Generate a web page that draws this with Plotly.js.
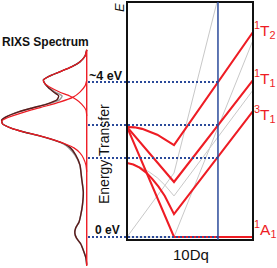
<!DOCTYPE html>
<html><head><meta charset="utf-8">
<script src="https://cdn.plot.ly/plotly-3.0.1.min.js"></script>
<style>html,body{margin:0;padding:0;background:#fff;}#c{width:277px;height:268px;}</style>
</head><body><div id="c"></div>
<script>
// ---- Tanabe-Sugano style diagram (10Dq in box units, energy in eV) ----
const dq_1T2 = [0, 0.06, 0.12, 0.18, 0.24, 0.30, 0.373, 1.0];
const e_1T2  = [2.84, 2.83, 2.79, 2.72, 2.64, 2.52, 2.37, 5.29];
const dq_1T1 = [0, 0.373, 1.0];
const e_1T1  = [2.84, 1.42, 4.05];
const dq_3T1 = [0, 0.05, 0.10, 0.15, 0.20, 0.25, 0.30, 0.373, 1.0];
const e_3T1  = [1.91, 1.87, 1.79, 1.67, 1.50, 1.30, 1.06, 0.59, 3.25];
const dq_1A1 = [0, 0.373, 1.0];
const e_1A1  = [2.84, 0, 0];
const dq_5E  = [0, 0.373, 0.714];
const e_5E   = [0, 1.65, 6.06];
const dq_5T2 = [0, 0.373, 1.0];
const e_5T2  = [0, 0, 5.08];
const dq_3T2 = [0, 0.06, 0.12, 0.18, 0.24, 0.30, 0.373, 1.0];
const e_3T2  = [1.91, 1.86, 1.78, 1.67, 1.53, 1.34, 1.06, 3.79];
const dqMarker = 0.722;                 // blue vertical line position
const levels = [4.0, 2.89, 2.04, 0];    // dotted energy levels (eV)
const boxE = [-0.077, 6.065];           // energy span of the diagram box

// ---- RIXS spectrum (energy in eV, intensity normalised) ----
const specE   = [4.83,4.67,4.52,4.39,4.26,4.15,4.05,3.95,3.85,3.74,3.64,3.54,3.43,3.33,3.23,3.12,3.02,2.92,2.81,2.71,2.61,2.50,2.40,2.30,2.12,1.86,1.52,1.16,0.83,0.57,0.39,0.23,0.10,-0.03,-0.18,-0.34,-0.54,-0.72];
const specSum = [0,0.02,0.08,0.18,0.32,0.44,0.51,0.49,0.45,0.39,0.33,0.35,0.47,0.64,0.80,0.93,1.00,0.99,0.89,0.74,0.55,0.38,0.26,0.19,0.13,0.08,0.06,0.04,0.05,0.07,0.09,0.13,0.14,0.12,0.07,0.04,0.01,0];
const specExp = [0,0.02,0.08,0.18,0.32,0.44,0.51,0.49,0.44,0.37,0.29,0.32,0.46,0.64,0.80,0.93,1.00,0.99,0.89,0.74,0.56,0.39,0.27,0.21,0.14,0.08,0.06,0.04,0.05,0.07,0.09,0.13,0.14,0.12,0.07,0.04,0.01,0];
const c1E = [4.83,4.67,4.52,4.39,4.26,4.15,4.05,3.95,3.85,3.74,3.64,3.54,3.43,3.28,3.12];
const c1I = [0,0.02,0.08,0.18,0.32,0.44,0.51,0.49,0.42,0.32,0.20,0.12,0.06,0.01,0];
const c2E = [4.05,3.90,3.74,3.61,3.48,3.38,3.28,3.17,3.07,2.99,2.92,2.81,2.71,2.61,2.50,2.40,2.30,2.17,2.04,1.86,1.68];
const c2I = [0,0.02,0.08,0.16,0.32,0.48,0.65,0.81,0.94,1.0,0.99,0.89,0.74,0.55,0.38,0.25,0.15,0.08,0.04,0.01,0];
const baseE = [4.83, -0.75];

const W = 277, H = 268;
const RED = '#ee1c24', GRAY = '#c8c8c8', BLUE = '#2b4a9a';
const FONT = 'Arial, Liberation Sans, sans-serif';
const xp = px => px / W, yp = py => 1 - py / H;
const mainDom = [127 / W, 253 / W];
const specDom = [0, 88 / W];

function ts(x, y, color, w) {
  return {x: x, y: y, xaxis: 'x', yaxis: 'y', mode: 'lines', line: {color: color, width: w}, hoverinfo: 'skip'};
}
function sp(x, y, color, w) {
  return {x: x, y: y, xaxis: 'x2', yaxis: 'y', mode: 'lines', line: {color: color, width: w, shape: 'spline', smoothing: 0.6}, hoverinfo: 'skip'};
}

const data = [
  ts(dq_5E, e_5E, GRAY, 1), ts(dq_5T2, e_5T2, GRAY, 1), ts(dq_3T2, e_3T2, GRAY, 1),
  ts(dq_1T2, e_1T2, RED, 2.1), ts(dq_1T1, e_1T1, RED, 2.1), ts(dq_3T1, e_3T1, RED, 2.1), ts(dq_1A1, e_1A1, RED, 2.1),
  sp(specExp, specE, '#9a9a9a', 1.5),
  sp(specSum, specE, '#5a1a1a', 1.4),
  sp(c1I, c1E, RED, 1.2), sp(c2I, c2E, RED, 1.2),
  {x: [0, 0], y: baseE, xaxis: 'x2', yaxis: 'y', mode: 'lines', line: {color: RED, width: 1.4}, hoverinfo: 'skip'}
];

const blueXpaper = mainDom[0] + dqMarker * (mainDom[1] - mainDom[0]);
const shapes = [
  {type: 'rect', xref: 'x domain', x0: 0, x1: 1, yref: 'y', y0: boxE[0], y1: boxE[1], line: {color: '#111', width: 2}},
  {type: 'line', xref: 'x', x0: dqMarker, x1: dqMarker, yref: 'y', y0: boxE[0], y1: boxE[1], line: {color: BLUE, width: 1.5}}
];
levels.forEach(l => shapes.push({type: 'line', xref: 'paper', x0: 88 / W, x1: blueXpaper, yref: 'y', y0: l, y1: l,
  line: {color: BLUE, width: 2, dash: '2px,2px'}}));

function ann(text, x, y, opts) {
  return Object.assign({text: text, xref: 'paper', yref: 'paper', x: xp(x), y: yp(y), showarrow: false,
    xanchor: 'center', yanchor: 'middle', borderpad: 0,
    font: {family: FONT, size: 12, color: '#111'}}, opts || {});
}
const annotations = [
  ann('<b>RIXS Spectrum</b>', 45, 42, {font: {family: FONT, size: 12, color: '#111'}}),
  ann('<b>~4 eV</b>', 106, 76, {font: {family: FONT, size: 12.5, color: '#111'}}),
  ann('<b>0 eV</b>', 107, 230, {font: {family: FONT, size: 12, color: '#111'}}),
  ann('Energy Transfer', 104, 154, {textangle: -90, font: {family: FONT, size: 14, color: '#111'}}),
  ann('<i>E</i>', 120, 8, {textangle: -90, font: {family: FONT, size: 13, color: '#111'}}),
  ann('10Dq', 191, 254, {font: {family: FONT, size: 15, color: '#111'}}),
  ann('<sup>1</sup>T<sub>2</sub>', 253, 30, {xanchor: 'left', font: {family: FONT, size: 15.5, color: RED}}),
  ann('<sup>1</sup>T<sub>1</sub>', 253, 78, {xanchor: 'left', font: {family: FONT, size: 15.5, color: RED}}),
  ann('<sup>3</sup>T<sub>1</sub>', 253, 114, {xanchor: 'left', font: {family: FONT, size: 15.5, color: RED}}),
  ann('<sup>1</sup>A<sub>1</sub>', 253, 229, {xanchor: 'left', font: {family: FONT, size: 15.5, color: RED}})
];

const layout = {
  width: W, height: H, margin: {l: 0, r: 0, t: 0, b: 0},
  paper_bgcolor: '#fff', plot_bgcolor: 'rgba(0,0,0,0)', showlegend: false,
  xaxis: {domain: mainDom, range: [0, 1], visible: false, fixedrange: true},
  xaxis2: {domain: specDom, range: [1.02, -0.015], visible: false, anchor: 'y', fixedrange: true},
  yaxis: {range: [-0.8, 6.116], visible: false, fixedrange: true},
  shapes: shapes, annotations: annotations
};
Plotly.newPlot('c', data, layout, {staticPlot: true, displayModeBar: false});
</script></body></html>
